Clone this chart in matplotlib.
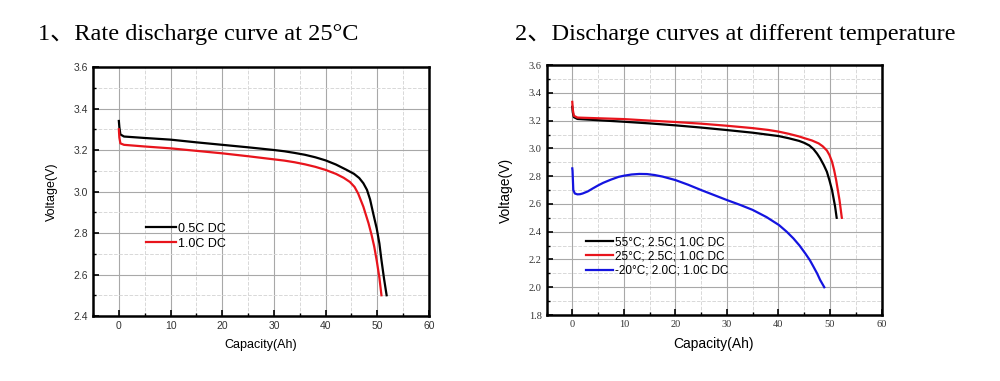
import numpy as np
import matplotlib
matplotlib.use('Agg')
from matplotlib import pyplot as plt
from matplotlib.ticker import MultipleLocator

# left panel: rate discharge at 25 C
cap_05c = [0, 0.1, 0.3, 1, 5, 10, 15, 20, 25, 30, 32, 34, 36, 38, 40, 42, 44,
           45.5, 46.5, 47.3, 48, 48.6, 49.2, 49.9, 50.4, 50.8, 51.3, 51.8]
volt_05c = [3.34, 3.31, 3.275, 3.265, 3.258, 3.25, 3.237, 3.225, 3.213, 3.20,
            3.194, 3.186, 3.177, 3.165, 3.15, 3.13, 3.105, 3.085, 3.065, 3.04,
            3.008, 2.962, 2.895, 2.82, 2.75, 2.67, 2.58, 2.50]
cap_10c = [0, 0.1, 0.3, 1, 5, 10, 15, 20, 25, 30, 32, 34, 36, 38, 40, 42, 43.5,
           44.7, 45.6, 46.3, 47.3, 48.3, 48.9, 49.4, 49.9, 50.4, 50.8]
volt_10c = [3.30, 3.26, 3.232, 3.225, 3.217, 3.208, 3.196, 3.184, 3.17, 3.155,
            3.149, 3.141, 3.131, 3.119, 3.104, 3.085, 3.066, 3.046, 3.022,
            2.99, 2.927, 2.847, 2.79, 2.735, 2.665, 2.585, 2.50]
rate_labels = ['0.5C DC', '1.0C DC']

# right panel: different temperatures
cap_55 = [0, 0.1, 0.3, 1, 5, 10, 15, 20, 25, 30, 35, 40, 42, 44, 45, 46,
          46.8, 47.5, 48.1, 48.8, 49.4, 49.9, 50.4, 51.0, 51.3]
volt_55 = [3.30, 3.26, 3.225, 3.212, 3.203, 3.192, 3.18, 3.166, 3.15, 3.132,
           3.113, 3.089, 3.073, 3.054, 3.04, 3.021, 2.995, 2.962, 2.928, 2.88,
           2.832, 2.77, 2.70, 2.58, 2.50]
cap_25 = [0, 0.1, 0.3, 1, 5, 10, 15, 20, 25, 30, 35, 38, 40, 42, 44, 45, 46.5,
          47.8, 48.6, 49.4, 49.9, 50.4, 50.8, 51.2, 51.85, 52.3]
volt_25 = [3.335, 3.28, 3.235, 3.222, 3.217, 3.211, 3.2, 3.19, 3.178, 3.163,
           3.146, 3.133, 3.121, 3.105, 3.086, 3.074, 3.057, 3.036, 3.015,
           2.985, 2.952, 2.904, 2.845, 2.772, 2.628, 2.50]
cap_m20 = [0, 0.05, 0.2, 0.5, 1, 1.5, 2, 3, 4, 5, 6, 7.5, 9, 10, 11.5, 13,
           14.5, 16, 17.5, 20, 22.5, 25, 27.5, 30, 32.5, 35, 37.7, 40.1,
           41.6, 42.9, 44.1, 45.2, 46.1, 46.8, 47.5, 48.1, 48.9]
volt_m20 = [2.856, 2.84, 2.70, 2.675, 2.669, 2.670, 2.675, 2.69, 2.712, 2.733,
            2.752, 2.775, 2.795, 2.803, 2.812, 2.816, 2.815, 2.808, 2.797,
            2.772, 2.738, 2.70, 2.664, 2.628, 2.594, 2.557, 2.505, 2.448, 2.40,
            2.352, 2.30, 2.244, 2.195, 2.148, 2.10, 2.052, 2.0]
temp_labels = ['55°C; 2.5C; 1.0C DC', '25°C; 2.5C; 1.0C DC',
               '-20°C; 2.0C; 1.0C DC']

titles = ['1、Rate discharge curve at 25°C',
          '2、Discharge curves at different temperature']

title_font = ['Liberation Serif', 'Noto Sans CJK SC', 'DejaVu Sans']


def style_axes(ax, ylim, tick_family, tick_size, label_size):
    ax.set_xlim(-5, 60)
    ax.set_ylim(*ylim)
    ax.xaxis.set_major_locator(MultipleLocator(10))
    ax.xaxis.set_minor_locator(MultipleLocator(5))
    ax.yaxis.set_major_locator(MultipleLocator(0.2))
    ax.yaxis.set_minor_locator(MultipleLocator(0.1))
    ax.grid(which='major', color='#a8a8a8', linewidth=0.8)
    ax.grid(which='minor', color='#d8d8d8', linewidth=0.7, linestyle='--')
    ax.set_axisbelow(True)
    ax.tick_params(which='major', direction='in', length=4, width=1.2,
                   top=False, right=False, labelsize=tick_size,
                   labelcolor='#333333')
    ax.tick_params(which='minor', direction='in', length=2.5, width=1,
                   top=False, right=False)
    for lab in ax.get_xticklabels() + ax.get_yticklabels():
        lab.set_family(tick_family)
    for sp in ax.spines.values():
        sp.set_linewidth(1.8)
    ax.set_xlabel('Capacity(Ah)', family='Liberation Sans', fontsize=label_size,
                  labelpad=6)
    ax.set_ylabel('Voltage(V)', family='Liberation Sans', fontsize=label_size,
                  labelpad=11)


fig = plt.figure(figsize=(10, 3.81), dpi=100)

ax1 = fig.add_axes([0.093, 0.1706, 0.336, 0.6535])
ax1.plot(cap_05c, volt_05c, color='black', lw=1.6, label=rate_labels[0])
ax1.plot(cap_10c, volt_10c, color='#e8141c', lw=1.6, label=rate_labels[1])
style_axes(ax1, (2.4, 3.6), 'Liberation Sans', 7.5, 9)
ax1.legend(loc='upper left', bbox_to_anchor=(0.14, 0.40), frameon=False,
           prop={'family': 'Liberation Sans', 'size': 9}, handlelength=2.35,
           handletextpad=0.2, labelspacing=0.25, borderpad=0)

ax2 = fig.add_axes([0.5465, 0.1732, 0.335, 0.656])
ax2.plot(cap_55, volt_55, color='black', lw=1.6, label=temp_labels[0])
ax2.plot(cap_25, volt_25, color='#e8141c', lw=1.6, label=temp_labels[1])
ax2.plot(cap_m20, volt_m20, color='#1414e0', lw=1.6, label=temp_labels[2])
style_axes(ax2, (1.8, 3.6), 'Liberation Serif', 7.5, 10)
ax2.legend(loc='upper left', bbox_to_anchor=(0.101, 0.339), frameon=False,
           prop={'family': 'Liberation Sans', 'size': 8.5}, handlelength=2.3,
           handletextpad=0.1, labelspacing=0.2, borderpad=0)

fig.text(0.038, 0.91, titles[0], family=title_font, fontsize=17.5,
         va='center', ha='left')
fig.text(0.515, 0.91, titles[1], family=title_font, fontsize=17.5,
         va='center', ha='left')

fig.savefig('out.png', dpi=100, facecolor='white')
